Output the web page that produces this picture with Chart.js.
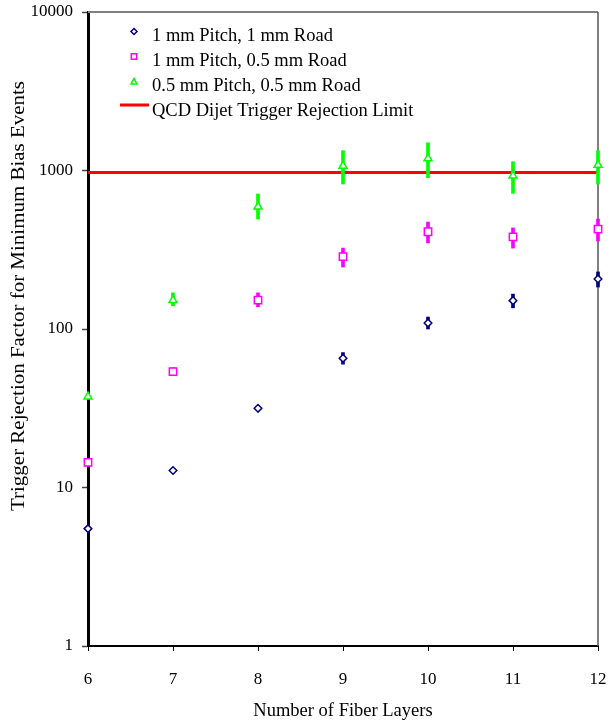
<!DOCTYPE html>
<html>
<head>
<meta charset="utf-8">
<script src="https://cdn.jsdelivr.net/npm/chart.js@4.4.0/dist/chart.umd.min.js"></script>
<style>
    html, body { margin: 0; padding: 0; background: #ffffff; }
    #wrap { width: 610px; height: 724px; }
</style>
</head>
<body>
<div id="wrap"><canvas id="rejectionChart" width="610" height="724"></canvas></div>
<script>
// ===========================
// Data
// ===========================

const layers = [6, 7, 8, 9, 10, 11, 12];
const xTicks = [6, 7, 8, 9, 10, 11, 12];
const yTicks = [1, 10, 100, 1000, 10000];

const seriesLabels = [
    '1 mm Pitch, 1 mm Road',
    '1 mm Pitch, 0.5 mm Road',
    '0.5 mm Pitch, 0.5 mm Road'
];
const limitLabel = 'QCD Dijet Trigger Rejection Limit';

const pitch1Road1 = [5.5, 12.8, 31.6, 65.3, 109, 151, 207];
const pitch1Road1Low = [null, null, null, 60, 100, 136, 184];
const pitch1Road1High = [null, null, null, 71, 119, 166, 229];

const pitch1Road05 = [14.4, 53.8, 152, 286, 411, 381, 427];
const pitch1Road05Low = [null, 51, 138, 246, 349, 324, 359];
const pitch1Road05High = [null, 57, 169, 324, 473, 434, 494];

const pitch05Road05 = [37.4, 152, 591, 1068, 1193, 927, 1083];
const pitch05Road05Low = [null, 140, 494, 822, 901, 718, 822];
const pitch05Road05High = [null, 169, 711, 1334, 1497, 1136, 1334];

const rejectionLimit = 970;

const seriesColors = ['#000080', '#FF00FF', '#00FF00'];
const limitColor = '#FF0000';
const SERIF = "'Liberation Serif', 'Times New Roman', serif";

// ===========================
// Helpers
// ===========================

function toPoints(values) {
    return layers.map((x, i) => ({ x: x, y: values[i] }));
}

function toErrorBars(low, high) {
    const out = [];
    layers.forEach((x, i) => {
        if (low[i] !== null && high[i] !== null) out.push({ x: x, y: [low[i], high[i]] });
    });
    return out;
}

function errorDataset(low, high, color) {
    return {
        type: 'bar',
        data: toErrorBars(low, high),
        backgroundColor: color,
        borderWidth: 0,
        barThickness: 3,
        grouped: false,
        clip: false,
        order: 2
    };
}

function pointDataset(label, values, color, style, radius) {
    return {
        type: 'scatter',
        label: label,
        data: toPoints(values),
        pointStyle: style,
        pointRadius: radius,
        pointBorderWidth: 1.5,
        pointBorderColor: color,
        pointBackgroundColor: '#ffffff',
        showLine: false,
        clip: false,
        order: 0
    };
}

// ===========================
// Custom drawing: frame, y title, legend
// ===========================

const decorPlugin = {
    id: 'decor',
    beforeDatasetsDraw(chart) {
        const { ctx, chartArea } = chart;
        ctx.save();
        ctx.strokeStyle = '#808080';
        ctx.lineWidth = 2;
        ctx.beginPath();
        ctx.moveTo(chartArea.left, chartArea.top);
        ctx.lineTo(chartArea.right, chartArea.top);
        ctx.stroke();
        ctx.strokeStyle = '#555555';
        ctx.lineWidth = 1.5;
        ctx.beginPath();
        ctx.moveTo(chartArea.right, chartArea.top);
        ctx.lineTo(chartArea.right, chartArea.bottom);
        ctx.stroke();
        ctx.restore();
    },
    afterDraw(chart) {
        const ctx = chart.ctx;

        // rotated, stretched y axis title
        const yTitle = 'Trigger Rejection Factor for Minimum Bias Events';
        ctx.save();
        ctx.font = '18px ' + SERIF;
        ctx.fillStyle = '#000000';
        ctx.textAlign = 'center';
        ctx.textBaseline = 'middle';
        const w = ctx.measureText(yTitle).width;
        ctx.translate(19, 296);
        ctx.rotate(-Math.PI / 2);
        ctx.scale(430 / w, 1);
        ctx.fillText(yTitle, 0, 0);
        ctx.restore();

        // legend
        const markX = 134;
        const textX = 152;
        const rows = [36, 61, 86, 111];
        ctx.save();
        ctx.font = '18.5px ' + SERIF;
        ctx.fillStyle = '#000000';
        ctx.textAlign = 'left';
        ctx.textBaseline = 'middle';
        seriesLabels.concat([limitLabel]).forEach((lbl, i) => {
            ctx.fillText(lbl, textX, rows[i]);
        });

        ctx.lineWidth = 1.5;
        const my = rows.map(r => r - 4.5);
        // diamond
        ctx.strokeStyle = seriesColors[0];
        ctx.beginPath();
        ctx.moveTo(markX, my[0] - 3);
        ctx.lineTo(markX + 3, my[0]);
        ctx.lineTo(markX, my[0] + 3);
        ctx.lineTo(markX - 3, my[0]);
        ctx.closePath();
        ctx.stroke();
        // square
        ctx.strokeStyle = seriesColors[1];
        ctx.strokeRect(markX - 2.7, my[1] - 2.7, 5.4, 5.4);
        // triangle
        ctx.strokeStyle = seriesColors[2];
        ctx.beginPath();
        ctx.moveTo(markX, my[2] - 3.2);
        ctx.lineTo(markX + 3, my[2] + 2.6);
        ctx.lineTo(markX - 3, my[2] + 2.6);
        ctx.closePath();
        ctx.stroke();
        // limit line
        ctx.strokeStyle = limitColor;
        ctx.lineWidth = 3;
        ctx.beginPath();
        ctx.moveTo(120, rows[3] - 6);
        ctx.lineTo(149, rows[3] - 6);
        ctx.stroke();
        ctx.restore();
    }
};

// ===========================
// Chart
// ===========================

const ctx = document.getElementById('rejectionChart');

new Chart(ctx, {
    type: 'scatter',
    data: {
        datasets: [
            pointDataset(seriesLabels[0], pitch1Road1, seriesColors[0], 'rectRot', 3.8),
            pointDataset(seriesLabels[1], pitch1Road05, seriesColors[1], 'rect', 5.2),
            pointDataset(seriesLabels[2], pitch05Road05, seriesColors[2], 'triangle', 4.6),
            errorDataset(pitch1Road1Low, pitch1Road1High, seriesColors[0]),
            errorDataset(pitch1Road05Low, pitch1Road05High, seriesColors[1]),
            errorDataset(pitch05Road05Low, pitch05Road05High, seriesColors[2]),
            {
                type: 'line',
                label: limitLabel,
                data: [
                    { x: layers[0], y: rejectionLimit },
                    { x: layers[layers.length - 1], y: rejectionLimit }
                ],
                borderColor: limitColor,
                borderWidth: 3,
                pointRadius: 0,
                fill: false,
                order: 3
            }
        ]
    },
    options: {
        responsive: false,
        animation: false,
        layout: {
            padding: { top: 12, right: 12, left: 0, bottom: 0 }
        },
        plugins: {
            legend: { display: false },
            tooltip: { enabled: false }
        },
        scales: {
            x: {
                type: 'linear',
                min: 6,
                max: 12,
                offset: false,
                afterFit: (scale) => {
                    scale.height = 78;
                    scale.paddingLeft = 0;
                    scale.paddingRight = 0;
                },
                afterBuildTicks: (scale) => { scale.ticks = xTicks.map(v => ({ value: v })); },
                grid: {
                    drawOnChartArea: false,
                    drawTicks: true,
                    tickLength: 5,
                    tickWidth: 1,
                    tickColor: '#000000',
                    offset: false
                },
                border: { display: true, color: '#000000', width: 2 },
                ticks: {
                    padding: 18,
                    color: '#000000',
                    font: { family: SERIF, size: 17 },
                    maxRotation: 0,
                    callback: (v) => String(v)
                },
                title: {
                    display: true,
                    text: 'Number of Fiber Layers',
                    color: '#000000',
                    font: { family: SERIF, size: 18.5 },
                    padding: { top: 0, bottom: 2 }
                }
            },
            y: {
                type: 'logarithmic',
                min: 1,
                max: 10000,
                afterFit: (scale) => {
                    scale.width = 88;
                    scale.paddingTop = 0;
                    scale.paddingBottom = 0;
                },
                afterBuildTicks: (scale) => { scale.ticks = yTicks.map(v => ({ value: v })); },
                grid: {
                    drawOnChartArea: false,
                    drawTicks: true,
                    tickLength: 6,
                    tickWidth: 1.5,
                    tickColor: '#444444'
                },
                border: { display: true, color: '#000000', width: 3 },
                ticks: {
                    padding: 9,
                    color: '#000000',
                    font: { family: SERIF, size: 17 },
                    callback: (v) => String(v)
                }
            }
        }
    },
    plugins: [decorPlugin]
});
</script>
</body>
</html>
